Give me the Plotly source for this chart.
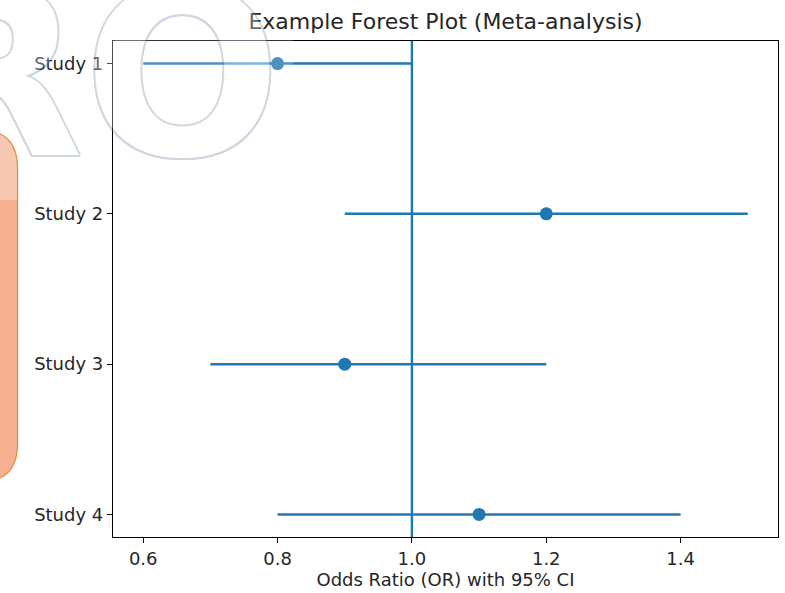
import plotly.graph_objects as go

studies = ["Study 1", "Study 2", "Study 3", "Study 4"]
odds_ratio = [0.8, 1.2, 0.9, 1.1]
ci_lower = [0.6, 0.9, 0.7, 0.8]
ci_upper = [1.0, 1.5, 1.2, 1.4]
x_ticks = [0.6, 0.8, 1.0, 1.2, 1.4]
ref_line = 1.0

BLUE = "#1f77b4"
W, H = 785, 593
L, R, T, B = 113, 7, 41, 56
pw, ph = W - L - R, H - T - B

err_plus = [u - o for u, o in zip(ci_upper, odds_ratio)]
err_minus = [o - l for o, l in zip(odds_ratio, ci_lower)]
ypos = list(range(len(studies)))

fig = go.Figure()
fig.add_trace(go.Scatter(
    x=odds_ratio, y=ypos, mode="markers",
    marker=dict(color=BLUE, size=13),
    error_x=dict(type="data", symmetric=False, array=err_plus, arrayminus=err_minus,
                 color=BLUE, thickness=2.5, width=0),
    showlegend=False, hoverinfo="x+y",
))

fig.add_shape(type="line", xref="x", yref="paper", x0=ref_line, x1=ref_line, y0=0, y1=1,
              line=dict(color=BLUE, width=2.4))


def px2paper(x, y):
    return (x - L) / pw, (H - B - y) / ph


def P(x, y):
    a, b = px2paper(x, y)
    return f"{a:.5f},{b:.5f}"


# faint white veil of the overlay in the top-left corner
vx0, vy0 = px2paper(115, 0)
vx1, vy1 = px2paper(293, 72)
fig.add_shape(type="rect", xref="paper", yref="paper", x0=vx0, y0=vy1, x1=vx1, y1=vy0,
              fillcolor="rgba(255,255,255,0.2)", line=dict(width=0), layer="above")

# orange rounded box at the left edge (overlay decoration)
x_l, x_r, y_t, y_b, rad = -40, 17.5, 130, 482, 38
box = (f"M {P(x_l, y_t)} L {P(x_r - rad, y_t)} Q {P(x_r, y_t)} {P(x_r, y_t + rad)} "
       f"L {P(x_r, y_b - rad)} Q {P(x_r, y_b)} {P(x_r - rad, y_b)} L {P(x_l, y_b)} Z")
fig.add_shape(type="path", xref="paper", yref="paper", path=box,
              fillcolor="#f4b090", line=dict(width=0), layer="above")
band = (f"M {P(x_l, y_t)} L {P(x_r - rad, y_t)} Q {P(x_r, y_t)} {P(x_r, y_t + rad)} "
        f"L {P(x_r, 200)} L {P(x_l, 200)} Z")
fig.add_shape(type="path", xref="paper", yref="paper", path=band,
              fillcolor="rgba(255,255,255,0.3)", line=dict(width=0), layer="above")
fig.add_shape(type="path", xref="paper", yref="paper", path=box,
              fillcolor="rgba(0,0,0,0)", line=dict(color="#ef8a3c", width=1.2), layer="above")

# outlined "RO" watermark letters
ax, ay = px2paper(283, 212)
OUT = "#627d9b"
fig.add_annotation(
    xref="paper", yref="paper", x=ax, y=ay, xanchor="right", yanchor="bottom",
    text="RO", showarrow=False, opacity=0.3,
    font=dict(family="DejaVu Sans", weight="bold", size=232, color="white",
              shadow=(f"2px 0 0 {OUT}, -2px 0 0 {OUT}, 0 2px 0 {OUT}, 0 -2px 0 {OUT}, "
                      f"1.5px 1.5px 0 {OUT}, -1.5px -1.5px 0 {OUT}, 1.5px -1.5px 0 {OUT}, -1.5px 1.5px 0 {OUT}")),
)

fig.update_layout(
    width=W, height=H,
    margin=dict(l=L, r=R, t=T, b=B),
    paper_bgcolor="white", plot_bgcolor="white",
    font=dict(family="DejaVu Sans", size=18, color="#262626"),
    title=dict(text="Example Forest Plot (Meta-analysis)", x=(L + pw / 2) / W, xanchor="center",
               y=1 - 21 / H, yanchor="middle", font=dict(size=22, color="#262626")),
    xaxis=dict(range=[0.555, 1.545], tickvals=x_ticks, ticktext=[f"{v:.1f}" for v in x_ticks],
               showgrid=False, zeroline=False, showline=True, mirror=True, linecolor="black",
               linewidth=1.2, ticks="outside", ticklen=5, tickcolor="black",
               tickfont=dict(size=18),
               title=dict(text="Odds Ratio (OR) with 95% CI", standoff=5, font=dict(size=18))),
    yaxis=dict(range=[3.15, -0.15], tickvals=ypos, ticktext=studies,
               showgrid=False, zeroline=False, showline=True, mirror=True, linecolor="black",
               linewidth=1.2, ticks="outside", ticklen=5, tickcolor="black",
               tickfont=dict(size=18)),
)

fig.write_html("out.html", config={"displayModeBar": False},
               post_script="document.body.style.margin='0';")
